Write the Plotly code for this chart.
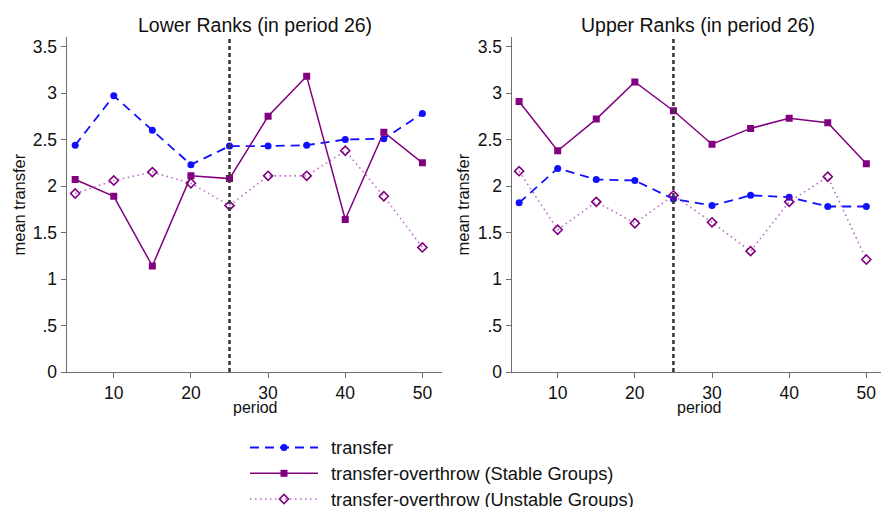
import plotly.graph_objects as go

periods = [5, 10, 15, 20, 25, 30, 35, 40, 45, 50]

lower_transfer = [2.44, 2.97, 2.60, 2.23, 2.43, 2.43, 2.44, 2.50, 2.51, 2.78]
lower_stable = [2.07, 1.89, 1.14, 2.11, 2.08, 2.75, 3.18, 1.64, 2.58, 2.25]
lower_unstable = [1.92, 2.06, 2.15, 2.03, 1.79, 2.11, 2.11, 2.38, 1.89, 1.34]

upper_transfer = [1.82, 2.19, 2.07, 2.06, 1.86, 1.79, 1.90, 1.88, 1.78, 1.78]
upper_stable = [2.91, 2.38, 2.72, 3.12, 2.81, 2.45, 2.62, 2.73, 2.68, 2.24]
upper_unstable = [2.16, 1.53, 1.83, 1.60, 1.90, 1.61, 1.30, 1.83, 2.10, 1.21]

panel_titles = ["Lower Ranks (in period 26)", "Upper Ranks (in period 26)"]
series_names = ["transfer", "transfer-overthrow (Stable Groups)",
                "transfer-overthrow (Unstable Groups)"]
y_ticks = [0, 0.5, 1, 1.5, 2, 2.5, 3, 3.5]
y_tick_text = ["0", ".5", "1", "1.5", "2", "2.5", "3", "3.5"]
x_ticks = [10, 20, 30, 40, 50]
cutoff_period = 25

W, H = 881, 507
FONT = "Liberation Sans, Arial, sans-serif"
BLUE = "#1010ff"
PURPLE = "#800080"
LIGHT = "#b868c8"

def px(x):
    return x / W

def py(y):
    return 1 - y / H

styles = [
    dict(line=dict(color=BLUE, width=1.8, dash="9px,6px"),
         marker=dict(symbol="circle", size=7, color=BLUE)),
    dict(line=dict(color=PURPLE, width=1.5),
         marker=dict(symbol="square", size=7, color=PURPLE)),
    dict(line=dict(color=LIGHT, width=1.6, dash="1.5px,3.5px"),
         marker=dict(symbol="diamond-open", size=7, color=PURPLE,
                     line=dict(color=PURPLE, width=1.6))),
]

fig = go.Figure()

panels = [
    ("x", "y", [lower_transfer, lower_stable, lower_unstable]),
    ("x2", "y2", [upper_transfer, upper_stable, upper_unstable]),
]
for xa, ya, data in panels:
    for i, vals in enumerate(data):
        fig.add_trace(go.Scatter(
            x=periods, y=vals, mode="lines+markers", name=series_names[i],
            xaxis=xa, yaxis=ya, showlegend=False,
            line=styles[i]["line"], marker=styles[i]["marker"]))

# legend keys, drawn on a pixel-mapped overlay axis
legend_rows = [447.5, 473.3, 499.0]
for i, yr in enumerate(legend_rows):
    fig.add_trace(go.Scatter(x=[250, 318], y=[yr, yr], mode="lines",
                             xaxis="x3", yaxis="y3", showlegend=False,
                             hoverinfo="skip", line=styles[i]["line"]))
    fig.add_trace(go.Scatter(x=[284], y=[yr], mode="markers",
                             xaxis="x3", yaxis="y3", showlegend=False,
                             hoverinfo="skip", marker=styles[i]["marker"]))

axis_common = dict(showgrid=False, zeroline=False, showline=True,
                   automargin=False,
                   linecolor="#6e6e6e", linewidth=1.3, ticks="outside",
                   ticklen=5, tickcolor="#6e6e6e", tickwidth=1.2,
                   tickfont=dict(family=FONT, size=17.5, color="#111"))

y_dom = [py(372), py(37.3)]
fig.update_layout(
    width=W, height=H, autosize=False,
    margin=dict(l=0, r=0, t=0, b=0, pad=0, autoexpand=False),
    paper_bgcolor="white", plot_bgcolor="rgba(0,0,0,0)",
    xaxis=dict(domain=[px(66.7), px(441.7)], range=[3.9, 52.5],
               tickvals=x_ticks, anchor="y", **axis_common),
    yaxis=dict(domain=y_dom, range=[0, 3.6], tickvals=y_ticks,
               ticktext=y_tick_text, anchor="x", **axis_common),
    xaxis2=dict(domain=[px(511.7), 1.0], range=[4.04, 51.9],
                tickvals=x_ticks, anchor="y2", **axis_common),
    yaxis2=dict(domain=y_dom, range=[0, 3.6], tickvals=y_ticks,
                ticktext=y_tick_text, anchor="x2", **axis_common),
    xaxis3=dict(domain=[0, 1], range=[0, W], visible=False, anchor="y3",
                automargin=False),
    yaxis3=dict(domain=[0, 1], range=[H, 0], visible=False, anchor="x3",
                automargin=False),
)

for xa, ya in [("x", "y"), ("x2", "y2")]:
    fig.add_shape(type="line", xref=xa, yref=ya, x0=cutoff_period,
                  x1=cutoff_period, y0=0, y1=3.6, layer="above",
                  line=dict(color="#3a3a3a", width=2.6, dash="4px,3px"))

annotations = []
for cx, title in zip([254.5, 698.3], panel_titles):
    annotations.append(dict(text=title, x=px(cx), y=py(25), xref="paper",
                            yref="paper", showarrow=False, xanchor="center",
                            yanchor="middle",
                            font=dict(family=FONT, size=19.5, color="#111")))
for cx in [254.5, 698.5]:
    annotations.append(dict(text="period", x=px(cx), y=py(407), xref="paper",
                            yref="paper", showarrow=False, xanchor="center",
                            yanchor="middle",
                            font=dict(family=FONT, size=16, color="#111")))
for cx in [19, 463]:
    annotations.append(dict(text="mean transfer", x=px(cx), y=py(204.5),
                            xref="paper", yref="paper", showarrow=False,
                            textangle=-90, xanchor="center", yanchor="middle",
                            font=dict(family=FONT, size=16.5, color="#111")))
for yr, name in zip(legend_rows, series_names):
    annotations.append(dict(text=name, x=px(329), y=py(yr), xref="paper",
                            yref="paper", showarrow=False, xanchor="left",
                            yanchor="middle",
                            font=dict(family=FONT, size=18.3, color="#111")))
fig.update_layout(annotations=annotations)

fig.write_html(
    "out.html",
    config={"displayModeBar": False, "responsive": False},
    post_script=("document.documentElement.style.overflow='hidden';"
                 "document.body.style.margin='0';"
                 "document.body.style.overflow='hidden';"),
)
